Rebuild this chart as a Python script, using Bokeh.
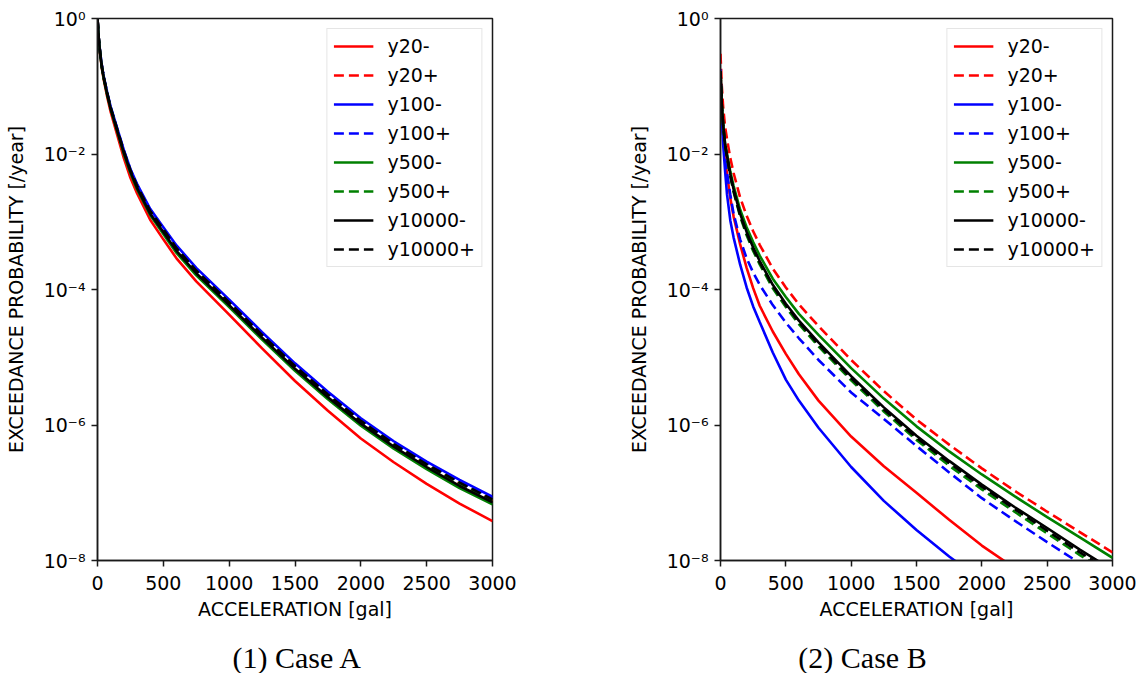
from bokeh.plotting import figure
from bokeh.layouts import row, column
from bokeh.models import Range1d, FixedTicker, CustomJSTickFormatter, Label
from bokeh.embed import file_html
from bokeh.resources import INLINE

# Acceleration grid [gal]
accel = [0, 10, 20, 35, 50, 75, 100, 150, 200, 250, 300, 400, 500, 600, 750,
         1000, 1250, 1500, 1750, 2000, 2250, 2500, 2750, 3000]

series = ["y20-", "y20+", "y100-", "y100+", "y500-", "y500+", "y10000-", "y10000+"]
colors = ["#ff0000", "#ff0000", "#0000ff", "#0000ff", "#008000", "#008000", "#000000", "#000000"]
dashes = ["solid", "10 5", "solid", "10 5", "solid", "10 5", "solid", "10 5"]
captions = ["(1) Case A", "(2) Case B"]

# ---- Case A : log10 of exceedance probability [/year] ----
a_y20m = [0, -0.32, -0.53, -0.76, -0.93, -1.17, -1.38, -1.72, -2.06, -2.35, -2.58, -2.97, -3.26, -3.54, -3.88,
          -4.37, -4.87, -5.35, -5.79, -6.20, -6.55, -6.87, -7.16, -7.42]
a_y20p = [0, -0.30, -0.51, -0.73, -0.90, -1.12, -1.33, -1.65, -1.97, -2.25, -2.49, -2.87, -3.14, -3.41, -3.74,
          -4.21, -4.69, -5.15, -5.57, -5.96, -6.30, -6.60, -6.87, -7.12]
a_y100m = [0, -0.30, -0.50, -0.72, -0.88, -1.10, -1.30, -1.62, -1.94, -2.22, -2.44, -2.81, -3.08, -3.35, -3.68,
           -4.15, -4.63, -5.09, -5.51, -5.90, -6.24, -6.54, -6.81, -7.06]
a_y100p = [0, -0.30, -0.50, -0.72, -0.89, -1.11, -1.31, -1.63, -1.95, -2.23, -2.46, -2.83, -3.10, -3.37, -3.70,
           -4.17, -4.65, -5.11, -5.53, -5.92, -6.26, -6.56, -6.83, -7.08]
a_y500m = [0, -0.31, -0.52, -0.75, -0.91, -1.14, -1.34, -1.67, -2.00, -2.28, -2.52, -2.90, -3.18, -3.46, -3.79,
           -4.26, -4.74, -5.20, -5.62, -6.01, -6.35, -6.65, -6.93, -7.17]
a_y500p = [0, -0.30, -0.51, -0.73, -0.90, -1.12, -1.32, -1.65, -1.97, -2.25, -2.48, -2.86, -3.13, -3.40, -3.73,
           -4.20, -4.68, -5.14, -5.56, -5.95, -6.29, -6.59, -6.86, -7.11]
a_y10000m = [0, -0.31, -0.51, -0.74, -0.90, -1.13, -1.33, -1.66, -1.98, -2.26, -2.50, -2.88, -3.15, -3.43, -3.76,
             -4.23, -4.71, -5.17, -5.59, -5.98, -6.32, -6.62, -6.90, -7.14]
a_y10000p = [0, -0.30, -0.51, -0.73, -0.89, -1.11, -1.32, -1.64, -1.96, -2.24, -2.47, -2.84, -3.11, -3.39, -3.72,
             -4.19, -4.67, -5.13, -5.55, -5.94, -6.28, -6.58, -6.85, -7.10]

# ---- Case B : log10 of exceedance probability [/year] ----
b_y20m = [-0.75, -1.35, -1.70, -2.05, -2.30, -2.65, -2.92, -3.33, -3.68, -3.98, -4.24, -4.62, -4.95, -5.25, -5.64,
          -6.17, -6.61, -7.00, -7.40, -7.78, -8.11, -8.42, -8.71, -8.98]
b_y20p = [-0.52, -1.00, -1.30, -1.60, -1.78, -2.06, -2.28, -2.64, -2.91, -3.14, -3.34, -3.69, -3.97, -4.22, -4.54,
          -5.04, -5.50, -5.92, -6.29, -6.64, -6.97, -7.28, -7.58, -7.88]
b_y100m = [-0.80, -1.45, -1.85, -2.25, -2.60, -2.98, -3.23, -3.63, -3.97, -4.25, -4.48, -4.93, -5.33, -5.64, -6.04,
           -6.62, -7.12, -7.55, -7.94, -8.30, -8.63, -8.94, -9.22, -9.50]
b_y100p = [-0.75, -1.35, -1.70, -2.05, -2.28, -2.60, -2.88, -3.26, -3.54, -3.75, -3.93, -4.23, -4.49, -4.72, -5.04,
           -5.52, -5.91, -6.31, -6.70, -7.08, -7.41, -7.73, -8.04, -8.33]
b_y500m = [-0.78, -1.28, -1.55, -1.84, -2.00, -2.26, -2.47, -2.82, -3.08, -3.30, -3.50, -3.84, -4.11, -4.36, -4.67,
           -5.16, -5.61, -6.02, -6.39, -6.73, -7.05, -7.36, -7.66, -7.96]
b_y500p = [-0.78, -1.29, -1.57, -1.88, -2.06, -2.33, -2.56, -2.92, -3.20, -3.43, -3.63, -3.98, -4.26, -4.51, -4.84,
           -5.34, -5.80, -6.22, -6.60, -6.95, -7.28, -7.60, -7.92, -8.22]
b_y10000m = [-0.78, -1.28, -1.56, -1.86, -2.03, -2.30, -2.52, -2.88, -3.15, -3.38, -3.58, -3.93, -4.21, -4.46, -4.78,
             -5.28, -5.74, -6.16, -6.53, -6.88, -7.21, -7.52, -7.84, -8.14]
b_y10000p = [-0.78, -1.28, -1.56, -1.87, -2.04, -2.31, -2.54, -2.90, -3.17, -3.40, -3.60, -3.95, -4.23, -4.48, -4.81,
             -5.31, -5.77, -6.19, -6.56, -6.91, -7.24, -7.56, -7.88, -8.18]

case_a = [a_y20m, a_y20p, a_y100m, a_y100p, a_y500m, a_y500p, a_y10000m, a_y10000p]
case_b = [b_y20m, b_y20p, b_y100m, b_y100p, b_y500m, b_y500p, b_y10000m, b_y10000p]

x_ticks = [0, 500, 1000, 1500, 2000, 2500, 3000]
y_ticks = [1e-8, 1e-6, 1e-4, 1e-2, 1.0]

FONT = "DejaVu Sans"
FS = "19px"

sup_code = """
const sup = {"-": "\u207b", "0": "\u2070", "1": "\u00b9", "2": "\u00b2", "3": "\u00b3",
             "4": "\u2074", "5": "\u2075", "6": "\u2076", "7": "\u2077", "8": "\u2078", "9": "\u2079"};
const e = Math.round(Math.log10(tick));
return "10" + String(e).split("").map(c => sup[c]).join("");
"""


def make_panel(logs, width, left, right):
    p = figure(width=width, height=640, y_axis_type="log",
               x_range=Range1d(0, 3000), y_range=Range1d(1e-8, 1.0),
               output_backend="svg", toolbar_location=None,
               min_border_left=left, min_border_right=right,
               min_border_top=18, min_border_bottom=80)
    for name, vals, col, dash in zip(series, logs, colors, dashes):
        p.line(accel, [10 ** v for v in vals], line_color=col, line_width=2.6,
               line_dash=dash, legend_label=name)

    p.xgrid.visible = False
    p.ygrid.visible = False
    p.background_fill_color = "white"
    p.border_fill_color = "white"
    p.outline_line_color = "#1a1a1a"
    p.outline_line_width = 1.5
    p.outline_line_alpha = 1.0

    p.xaxis.ticker = FixedTicker(ticks=x_ticks, minor_ticks=[])
    p.yaxis.ticker = FixedTicker(ticks=y_ticks, minor_ticks=[])
    p.yaxis.formatter = CustomJSTickFormatter(code=sup_code)
    p.xaxis.axis_label = "ACCELERATION [gal]"
    p.yaxis.axis_label = "EXCEEDANCE PROBABILITY [/year]"
    for ax in (p.xaxis[0], p.yaxis[0]):
        ax.axis_line_color = "#1a1a1a"
        ax.axis_line_width = 1.5
        ax.major_tick_line_color = "#1a1a1a"
        ax.major_tick_line_width = 1.5
        ax.major_tick_out = 6
        ax.major_tick_in = 0
        ax.minor_tick_line_color = None
        ax.major_label_text_font = FONT
        ax.major_label_text_font_size = FS
        ax.major_label_text_color = "black"
        ax.axis_label_text_font = FONT
        ax.axis_label_text_font_size = FS
        ax.axis_label_text_font_style = "normal"
        ax.axis_label_text_color = "black"
    p.xaxis.major_label_standoff = 9
    p.yaxis.major_label_standoff = 6
    p.xaxis.axis_label_standoff = 5
    p.yaxis.axis_label_standoff = 14

    leg = p.legend[0]
    leg.location = "top_right"
    leg.margin = 10
    leg.padding = 6
    leg.spacing = 7
    leg.glyph_width = 40
    leg.glyph_height = 22
    leg.label_height = 22
    leg.label_standoff = 14
    leg.label_text_font = FONT
    leg.label_text_font_size = FS
    leg.label_text_color = "black"
    leg.border_line_color = "#cccccc"
    leg.border_line_width = 1.3
    leg.background_fill_alpha = 0.8
    return p


def make_caption(text, width, cx):
    c = figure(width=width, height=33, output_backend="svg", toolbar_location=None,
               x_axis_location=None, y_axis_location=None, min_border=0)
    c.outline_line_color = None
    c.xgrid.visible = False
    c.ygrid.visible = False
    c.add_layout(Label(x=cx, y=16, x_units="screen", y_units="screen", text=text,
                       text_align="center", text_baseline="middle",
                       text_font="Liberation Serif", text_font_size="30px",
                       text_font_style="normal", text_color="black"))
    return c


pA = make_panel(case_a, 608, 97, 116)
pB = make_panel(case_b, 529, 112, 25)
cA = make_caption(captions[0], 608, 297)
cB = make_caption(captions[1], 529, 254)

layout = column(row(pA, pB), row(cA, cB))
open("out.html", "w").write(file_html(layout, INLINE))
